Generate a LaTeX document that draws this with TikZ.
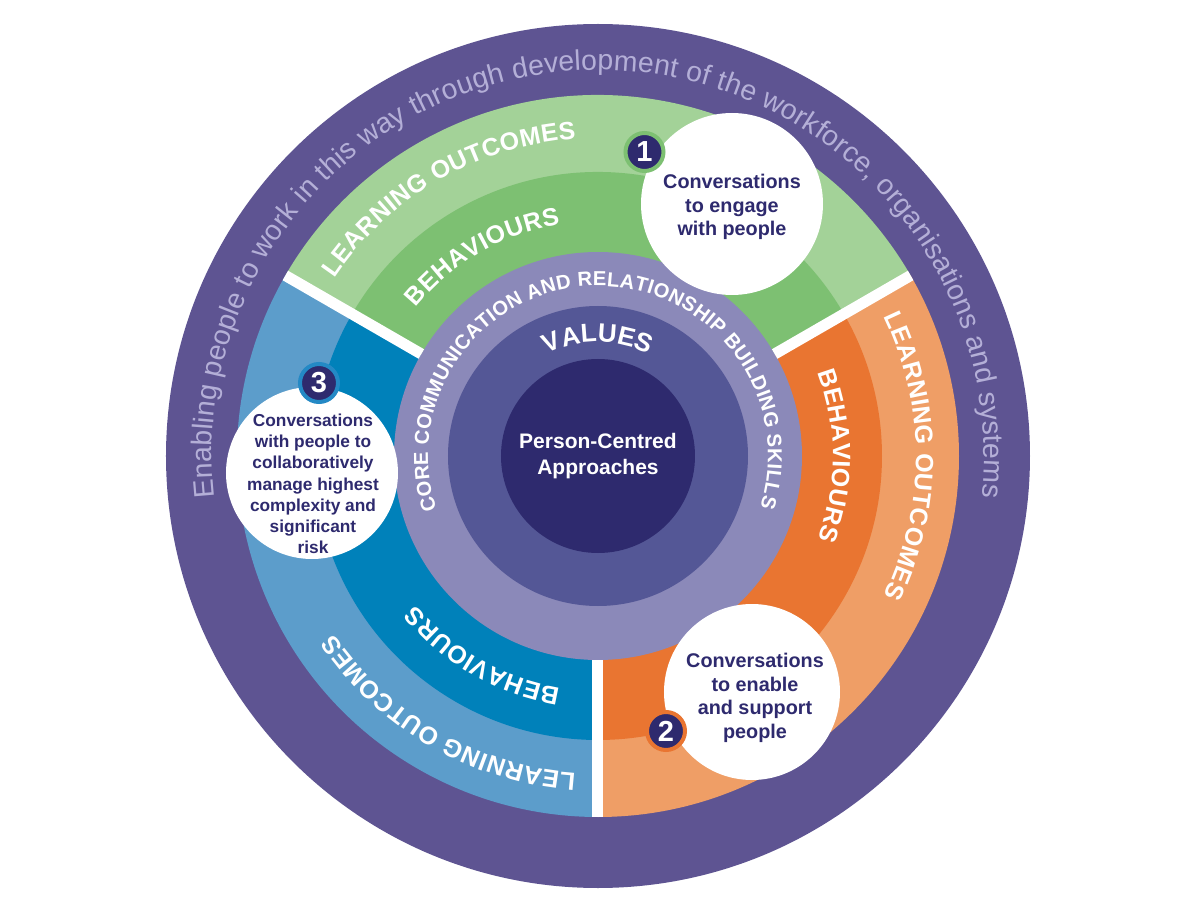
\documentclass[tikz,border=0pt]{standalone}
\usepackage{fontspec}
\setmainfont{Liberation Sans}
\usetikzlibrary{decorations.text}
\definecolor{outerpurple}{HTML}{5E5492}
\definecolor{outertext}{HTML}{B4AFD7}
\definecolor{greenLO}{HTML}{A3D298}
\definecolor{greenB}{HTML}{7DC072}
\definecolor{blueLO}{HTML}{5C9DCB}
\definecolor{blueB}{HTML}{0081BA}
\definecolor{orangeLO}{HTML}{EF9E66}
\definecolor{orangeB}{HTML}{E97531}
\definecolor{corering}{HTML}{8B89B9}
\definecolor{valuesring}{HTML}{545796}
\definecolor{innerdisk}{HTML}{2E2A6E}
\definecolor{navy}{HTML}{2E2A6E}
\definecolor{badgeblue}{HTML}{2489C5}
\newcommand\ringfnt{\bfseries\fontsize{12.5}{14}\selectfont\color{white}}
\newcommand\corefnt{\bfseries\fontsize{10.1}{12}\selectfont\color{white}}
\newcommand\valfnt{\bfseries\fontsize{13}{15}\selectfont\color{white}}
\newcommand\outerfnt{\fontsize{14.2}{16}\selectfont\color{outertext}}
\newcommand\curvetext[5]{%
  \path[decorate, decoration={text along path, text align={fit to path}, text={|#4|#5}}]
    (#2:#1) arc[start angle=#2, end angle=#3, radius=#1];}
\newcommand\sector[4]{%
  \fill[#4] (0,0) -- (#1:#3) arc[start angle=#1, end angle=#2, radius=#3] -- cycle;}
\tikzset{
  wcirc/.style={circle, fill=white, inner sep=0pt},
  badge/.style={circle, fill=navy, line width=2pt, minimum size=19pt, inner sep=0pt,
    text=white, font=\bfseries\fontsize{14.5}{16}\selectfont},
  ctext/.style={align=center, text=navy, font=\bfseries\fontsize{9.9}{11.8}\selectfont},
  ctextsmall/.style={align=center, text=navy, font=\bfseries\fontsize{8.65}{10.6}\selectfont},
  sep/.style={white, line width=5.5pt, line cap=butt}
}
\begin{document}
\begin{tikzpicture}[x=1pt,y=1pt]
\useasboundingbox (-299,-230) rectangle (301,228);
% outer ring
\fill[outerpurple] (0,0) circle[radius=216pt];
% learning outcome sectors
\sector{30}{150}{180.5pt}{greenLO}
\sector{-90}{30}{180.5pt}{orangeLO}
\sector{150}{270}{180.5pt}{blueLO}
% behaviour sectors
\sector{30}{150}{142pt}{greenB}
\sector{-90}{30}{142pt}{orangeB}
\sector{150}{270}{142pt}{blueB}
% inner rings
\fill[corering] (0,0) circle[radius=102pt];
\fill[valuesring] (0,0) circle[radius=75pt];
\fill[innerdisk] (0,0) circle[radius=48.5pt];
% separators
\foreach \a in {30,150,270} \draw[sep] (\a:102pt) -- (\a:180.5pt);
% curved texts
\curvetext{193pt}{186.2}{-6.2}{\outerfnt}{Enabling people to work in this way through development of the workforce, organisations and systems}
\curvetext{159pt}{146}{94}{\ringfnt}{LEARNING OUTCOMES}
\curvetext{159pt}{26}{-26}{\ringfnt}{LEARNING OUTCOMES}
\curvetext{159pt}{-94}{-146}{\ringfnt}{LEARNING OUTCOMES}
\curvetext{117.5pt}{140.75}{99.25}{\ringfnt}{BEHAVIOURS}
\curvetext{117.5pt}{20.75}{-20.75}{\ringfnt}{BEHAVIOURS}
\curvetext{117.5pt}{-99.25}{-140.75}{\ringfnt}{BEHAVIOURS}
\curvetext{85pt}{198.5}{-17.5}{\corefnt}{CORE COMMUNICATION AND RELATIONSHIP BUILDING SKILLS}
\path[decorate, decoration={text along path, text align=center, text={|\valfnt|VALUES}}]
  (150:57pt) arc[start angle=150, end angle=30, radius=57pt];
% centre text
\node[align=center, text=white, font=\bfseries\fontsize{10.5}{12.7}\selectfont] (pca) at (0,0) {Person-Centred\\Approaches};
% white circles
\node[wcirc, minimum size=91pt] (c1) at (67,126) {};
\node[wcirc, minimum size=88pt] (c2) at (77,-118) {};
\node[wcirc, minimum size=86pt] (c3) at (-143,-8.5) {};
\node[ctext] (t1) at (67,124.5) {Conversations\\to engage\\with people};
\node[ctext] (t2) at (78.5,-121) {Conversations\\to enable\\and support\\people};
\node[ctextsmall] (t3) at (-142.5,-14) {Conversations\\with people to\\collaboratively\\manage highest\\complexity and\\significant\\risk};
% badges
\node[badge, draw=greenB] (b1) at (23.25,152) {1};
\node[badge, draw=orangeB] (b2) at (34,-137.5) {2};
\node[badge, draw=badgeblue] (b3) at (-139.5,36.5) {3};
\end{tikzpicture}
\end{document}
